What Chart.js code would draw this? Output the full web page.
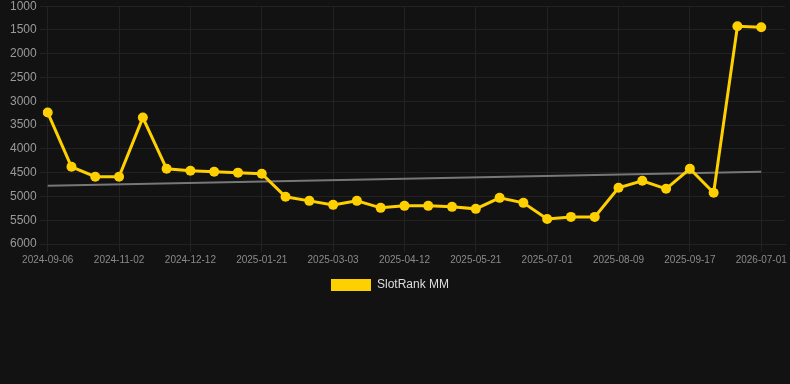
<!DOCTYPE html>
<html>
<head>
<meta charset="utf-8">
<script src="https://cdn.jsdelivr.net/npm/chart.js@4/dist/chart.umd.min.js"></script>
<style>
  html, body { margin: 0; padding: 0; background: #121212; overflow: hidden; }
  #wrap { width: 790px; height: 304px; position: relative; top: -4px; }
</style>
</head>
<body>
<div id="wrap"><canvas id="c"></canvas></div>
<script>
const categories = [
  "2024-09-06","2024-09-25","2024-10-14","2024-11-02","2024-11-15","2024-11-28",
  "2024-12-12","2024-12-25","2025-01-08","2025-01-21","2025-02-03","2025-02-17",
  "2025-03-03","2025-03-16","2025-03-29","2025-04-12","2025-04-25","2025-05-08",
  "2025-05-21","2025-06-04","2025-06-17","2025-07-01","2025-07-14","2025-07-27",
  "2025-08-09","2025-08-22","2025-09-04","2025-09-17","2025-10-01","2026-06-20",
  "2026-07-01",""
];
const rankValues = [
  3236, 4376, 4586, 4586, 3342, 4418, 4460, 4481, 4500, 4523,
  5008, 5093, 5177, 5093, 5240, 5198, 5198, 5219, 5261, 5030,
  5135, 5473, 5430, 5430, 4819, 4671, 4840, 4418, 4924, 1422, 1443
];
const trendStart = 4776;
const trendEnd = 4481;
const legendLabel = "SlotRank MM";

const trendData = [
  { x: categories[0], y: trendStart },
  { x: categories[rankValues.length - 1], y: trendEnd }
];

const FONT = 'Liberation Sans, Arial, sans-serif';

const legendShift = {
  id: 'legendShift',
  afterLayout(chart) {
    if (chart.legend) {
      chart.legend.right -= 17;
      chart.legend.top += 1;
      chart.legend.bottom += 1;
    }
  }
};

new Chart(document.getElementById('c'), {
  type: 'line',
  plugins: [legendShift],
  data: {
    labels: categories,
    datasets: [
      {
        label: legendLabel,
        data: rankValues,
        borderColor: '#FFD000',
        backgroundColor: '#FFD000',
        borderWidth: 3,
        pointRadius: 5,
        pointBorderWidth: 0,
        pointBackgroundColor: '#FFD000',
        tension: 0,
        order: 1
      },
      {
        label: 'trend',
        data: trendData,
        borderColor: '#777777',
        backgroundColor: '#777777',
        borderWidth: 2,
        pointRadius: 0,
        order: 2
      }
    ]
  },
  options: {
    responsive: true,
    maintainAspectRatio: false,
    animation: false,
    layout: { padding: { left: 7, right: 0 } },
    plugins: {
      legend: {
        position: 'bottom',
        labels: {
          color: '#dddddd',
          font: { family: FONT, size: 12 },
          boxWidth: 40,
          boxHeight: 12,
          generateLabels: function (chart) {
            const items = Chart.defaults.plugins.legend.labels.generateLabels(chart);
            return items.filter(it => it.text !== 'trend').map(it => Object.assign(it, { lineWidth: 0 }));
          }
        }
      },
      tooltip: { enabled: false }
    },
    scales: {
      x: {
        grid: { color: '#222222', drawTicks: true, tickLength: 8 },
        border: { color: '#222222' },
        ticks: {
          color: '#8a8a8a',
          font: { family: FONT, size: 10 },
          autoSkip: false,
          maxRotation: 0,
          padding: 2,
          callback: function (v, i) { return i % 3 === 0 ? this.getLabelForValue(v) : null; }
        }
      },
      y: {
        reverse: true,
        min: 1000,
        max: 6000,
        grid: { color: '#222222', tickLength: 8 },
        border: { color: '#222222' },
        ticks: {
          stepSize: 500,
          color: '#9a9a9a',
          font: { family: FONT, size: 12 },
          callback: (v) => String(v)
        }
      }
    }
  }
});
</script>
</body>
</html>
